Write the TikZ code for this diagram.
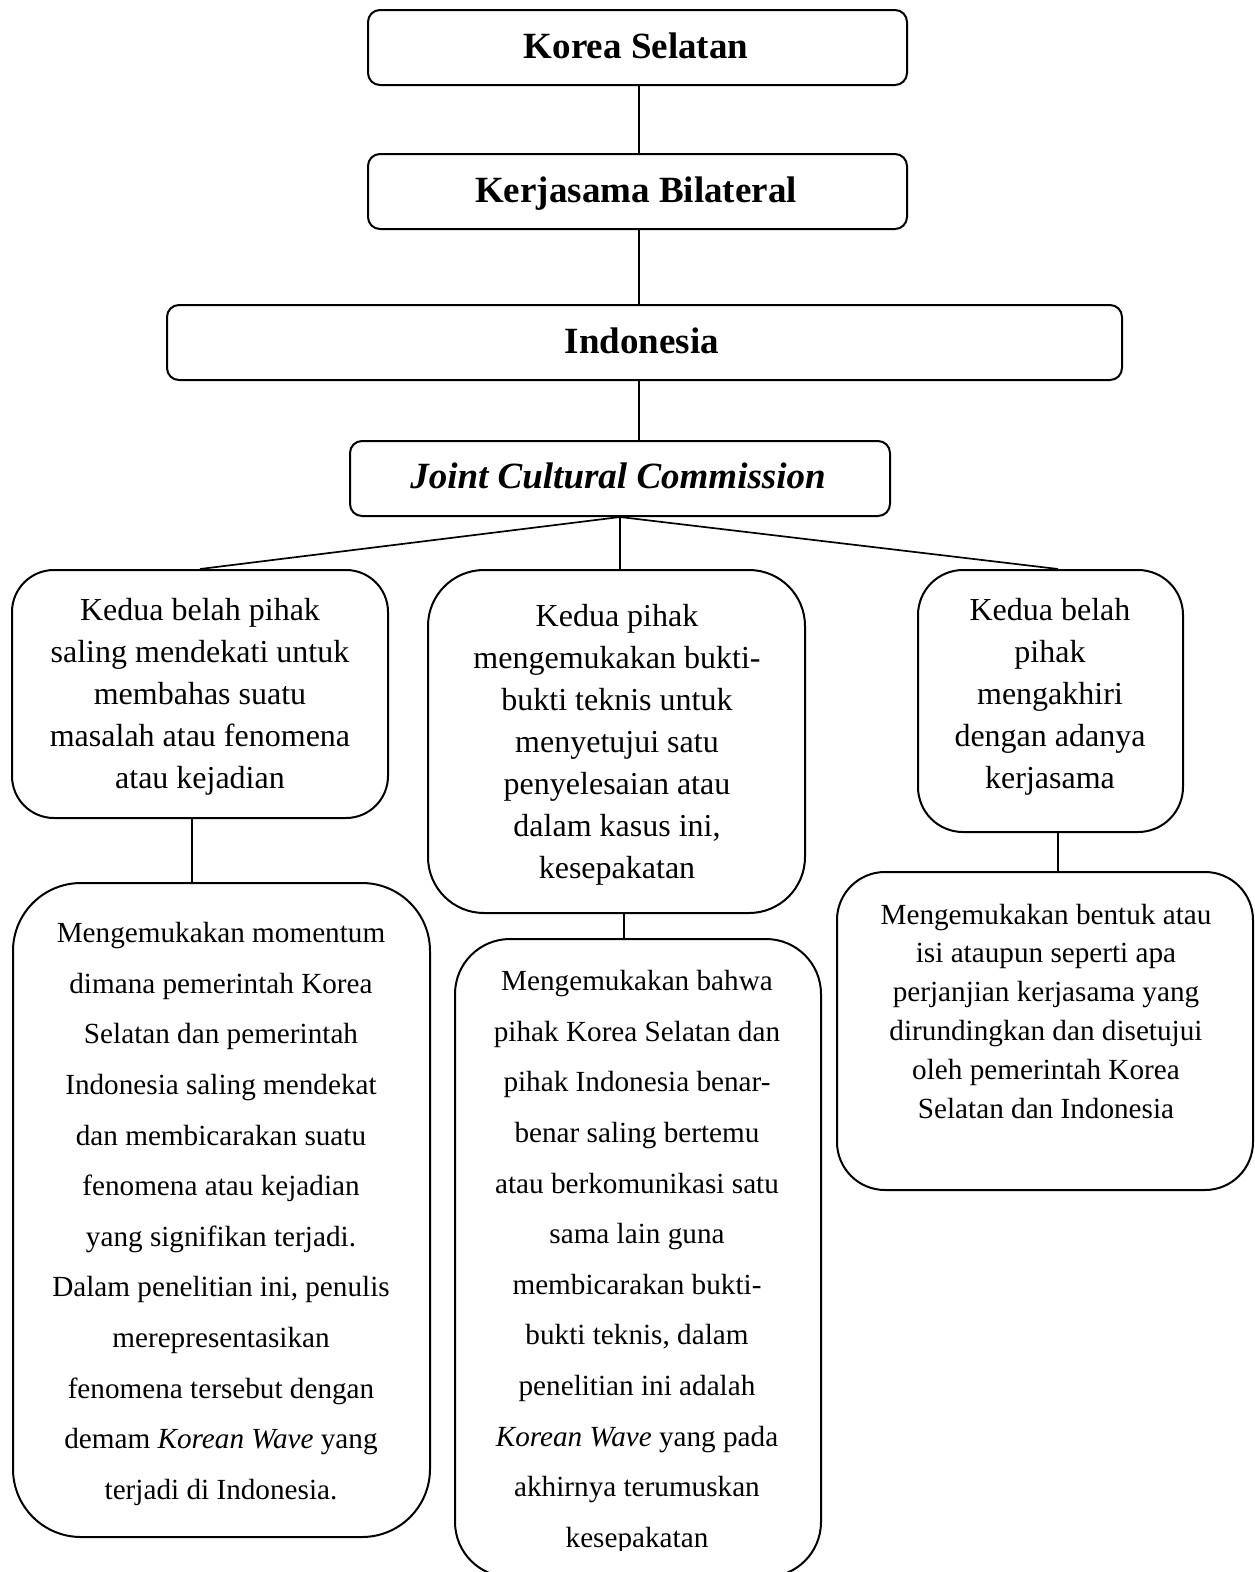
\documentclass[tikz,border=0pt]{standalone}
\usepackage{fontspec}
\setmainfont{Liberation Serif}
\begin{document}
\begin{tikzpicture}[x=1pt,y=-1pt,
  frame/.style={draw, line width=2pt, inner sep=0pt},
  link/.style={line width=1.7pt},
  title/.style={inner sep=0pt, anchor=base, font=\fontsize{37}{44}\selectfont\bfseries},
  bodyA/.style={inner sep=0pt, align=center, font=\fontsize{32}{42}\selectfont},
  bodyB/.style={inner sep=0pt, align=center, font=\fontsize{29.2}{50.6}\selectfont},
  bodyC/.style={inner sep=0pt, align=center, font=\fontsize{29.2}{38.8}\selectfont}]
\useasboundingbox (0,0) rectangle (1255,1572);

% frames
\node[frame, rounded corners=12pt, minimum width=539pt, minimum height=75pt] (k1) at (637.5,47.5) {};
\node[frame, rounded corners=12pt, minimum width=539pt, minimum height=75pt] (k2) at (637.5,191.5) {};
\node[frame, rounded corners=12pt, minimum width=955pt, minimum height=75pt] (ind) at (644.5,342.5) {};
\node[frame, rounded corners=12pt, minimum width=540pt, minimum height=75pt] (jcc) at (620,478.5) {};
\node[frame, rounded corners=42pt, minimum width=376pt, minimum height=248pt] (l1) at (200,694) {};
\node[frame, rounded corners=56pt, minimum width=377pt, minimum height=343pt] (m1) at (616.5,741.5) {};
\node[frame, rounded corners=45pt, minimum width=265pt, minimum height=262pt] (r1) at (1050.5,701) {};
\node[frame, rounded corners=68pt, minimum width=417pt, minimum height=654pt] (l2) at (221.5,1210) {};
\node[frame, rounded corners=55pt, minimum width=366pt, minimum height=638pt] (m2) at (638,1258) {};
\node[frame, rounded corners=48pt, minimum width=416pt, minimum height=318pt] (r2) at (1045,1031) {};

% texts
\node[title] (k1t) at (636,58) {Korea Selatan};
\node[title] (k2t) at (636,202) {Kerjasama Bilateral};
\node[title] (indt) at (642,353) {Indonesia};
\node[title] (jcct) at (618,488) {\itshape Joint Cultural Commission};

\node[bodyA] (l1t) at (200,697) {Kedua belah pihak\\saling mendekati untuk\\membahas suatu\\masalah atau fenomena\\atau kejadian};
\node[bodyA] (m1t) at (617,744.5) {Kedua pihak\\mengemukakan bukti-\\bukti teknis untuk\\menyetujui satu\\penyelesaian atau\\dalam kasus ini,\\kesepakatan};
\node[bodyA] (r1t) at (1050,697) {Kedua belah\\pihak\\mengakhiri\\dengan adanya\\kerjasama};

\node[bodyB] (l2t) at (221,1214) {Mengemukakan momentum\\dimana pemerintah Korea\\Selatan dan pemerintah\\Indonesia saling mendekat\\dan membicarakan suatu\\fenomena atau kejadian\\yang signifikan terjadi.\\Dalam penelitian ini, penulis\\merepresentasikan\\fenomena tersebut dengan\\demam \textit{Korean Wave} yang\\terjadi di Indonesia.};
\begin{scope}
\clip (0,0) rectangle (1255,1550);
\node[bodyB] (m2t) at (637,1262) {Mengemukakan bahwa\\pihak Korea Selatan dan\\pihak Indonesia benar-\\benar saling bertemu\\atau berkomunikasi satu\\sama lain guna\\membicarakan bukti-\\bukti teknis, dalam\\penelitian ini adalah\\\textit{Korean Wave} yang pada\\akhirnya terumuskan\\kesepakatan};
\end{scope}
\node[bodyC] (r2t) at (1046,1011) {Mengemukakan bentuk atau\\isi ataupun seperti apa\\perjanjian kerjasama yang\\dirundingkan dan disetujui\\oleh pemerintah Korea\\Selatan dan Indonesia};

% connectors
\coordinate (xl) at (192,0);
\coordinate (xm) at (624,0);
\coordinate (xr) at (1058,0);
\coordinate (xc) at (639,0);
\draw[link] (k1.south -| xc) -- (k2.north -| xc);
\draw[link] (k2.south -| xc) -- (ind.north -| xc);
\draw[link] (ind.south -| xc) -- (jcc.north -| xc);
\draw[link] (jcc.south) -- (l1.north);
\draw[link] (jcc.south) -- (jcc.south |- m1.north);
\draw[link] (jcc.south) -- (r1.north -| xr);
\draw[link] (l1.south -| xl) -- (l2.north -| xl);
\draw[link] (m1.south -| xm) -- (m2.north -| xm);
\draw[link] (r1.south -| xr) -- (r2.north -| xr);
\end{tikzpicture}
\end{document}
